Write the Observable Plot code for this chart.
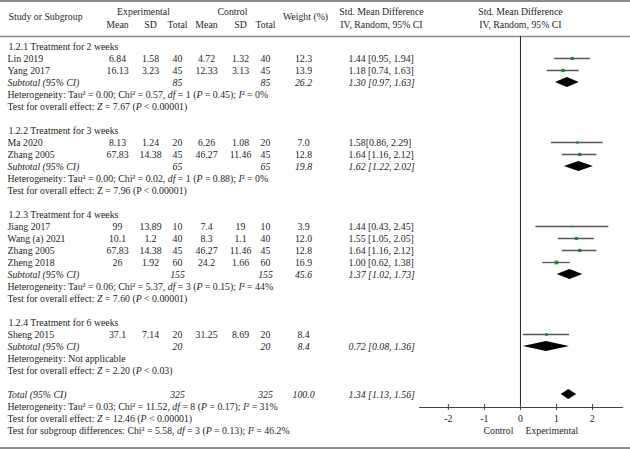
<!DOCTYPE html>
<html><head><meta charset="utf-8">
<script src="https://cdn.jsdelivr.net/npm/d3@7"></script>
<script src="https://cdn.jsdelivr.net/npm/@observablehq/plot@0.6"></script>
<style>
body{margin:0;background:#fff;}
#chart{width:630px;border-top:2px solid #8a8a8a;border-bottom:2px solid #8a8a8a;}
#chart svg{display:block;}
</style></head><body><div id="chart"></div>
<script>
// ---- data ----
const groupTitles = ["1.2.1 Treatment for 2 weeks","1.2.2 Treatment for 3 weeks","1.2.3 Treatment for 4 weeks","1.2.4 Treatment for 6 weeks"];
const studies = ["Lin 2019","Yang 2017","Ma 2020","Zhang 2005","Jiang 2017","Wang (a) 2021","Zhang 2005","Zheng 2018","Sheng 2015"];
const studyGroup = [0,0,1,1,2,2,2,2,3];
const expMean = ["6.84","16.13","8.13","67.83","99","10.1","67.83","26","37.1"];
const expSD = ["1.58","3.23","1.24","14.38","13.89","1.2","14.38","1.92","7.14"];
const expTotal = ["40","45","20","45","10","40","45","60","20"];
const ctlMean = ["4.72","12.33","6.26","46.27","7.4","8.3","46.27","24.2","31.25"];
const ctlSD = ["1.32","3.13","1.08","11.46","19","1.1","11.46","1.66","8.69"];
const ctlTotal = ["40","45","20","45","10","40","45","60","20"];
const weight = ["12.3","13.9","7.0","12.8","3.9","12.0","12.8","16.9","8.4"];
const smd = [1.44,1.18,1.58,1.64,1.44,1.55,1.64,1.00,0.72];
const ciLow = [0.95,0.74,0.86,1.16,0.43,1.05,1.16,0.62,0.08];
const ciHigh = [1.94,1.63,2.29,2.12,2.45,2.05,2.12,1.38,1.36];
const ciText = ["1.44 [0.95, 1.94]","1.18 [0.74, 1.63]","1.58[0.86, 2.29]","1.64 [1.16, 2.12]","1.44 [0.43, 2.45]","1.55 [1.05, 2.05]","1.64 [1.16, 2.12]","1.00 [0.62, 1.38]",""];

const subExpTotal = ["85","65","155","20"];
const subCtlTotal = ["85","65","155","20"];
const subWeight = ["26.2","19.8","45.6","8.4"];
const subSmd = [1.30,1.62,1.37,0.72];
const subLow = [0.97,1.22,1.02,0.08];
const subHigh = [1.63,2.02,1.73,1.36];
const subCiText = ["1.30 [0.97, 1.63]","1.62 [1.22, 2.02]","1.37 [1.02, 1.73]","0.72 [0.08, 1.36]"];
const heterogeneity = [
  "Heterogeneity: Tau² = 0.00; Chi² = 0.57, _df_ = 1 (_P_ = 0.45); _I_² = 0%",
  "Heterogeneity: Tau² = 0.00; Chi² = 0.02, _df_ = 1 (_P_ = 0.88); _I_² = 0%",
  "Heterogeneity: Tau² = 0.06; Chi² = 5.37, _df_ = 3 (_P_ = 0.15); _I_² = 44%",
  "Heterogeneity: Not applicable"];
const overallEffect = [
  "Test for overall effect: _Z_ = 7.67 (_P_ < 0.00001)",
  "Test for overall effect: Z = 7.96 (P < 0.00001)",
  "Test for overall effect: _Z_ = 7.60 (_P_ < 0.00001)",
  "Test for overall effect: _Z_ = 2.20 (_P_ < 0.03)"];

const totalLabel = "Total (95% CI)";
const totalExp = "325";
const totalCtl = "325";
const totalWeight = "100.0";
const totalSmd = 1.34, totalLow = 1.13, totalHigh = 1.56;
const totalCiText = "1.34 [1.13, 1.56]";
const totalNotes = [
  "Heterogeneity: Tau² = 0.03; Chi² = 11.52, _df_ = 8 (_P_ = 0.17); _I_² = 31%",
  "Test for overall effect: _Z_ = 12.46 (_P_ < 0.00001)",
  "Test for subgroup differences: Chi² = 5.58, _df_ = 3 (_P_ = 0.13); _I_² = 46.2%"];

const colHeaders = ["Mean","SD","Total","Mean","SD","Total"];
const armHeaders = ["Experimental","Control"];
const xTicks = [-2,-1,0,1,2];
const axisLabels = ["Control","Experimental"];

// ---- row layout ----
const titleRows = [], studyRows = [], summaryRows = [], noteRows = [];
let r = 0;
groupTitles.forEach((t, g) => {
  titleRows.push({text: t, row: r++});
  studies.forEach((s, i) => { if (studyGroup[i] === g) studyRows.push({i, row: r++}); });
  summaryRows.push({id: "g" + g, label: "Subtotal (95% CI)", e: subExpTotal[g], c: subCtlTotal[g], w: subWeight[g],
    smd: subSmd[g], lo: subLow[g], hi: subHigh[g], ci: subCiText[g], row: r++});
  noteRows.push({text: heterogeneity[g], row: r++});
  noteRows.push({text: overallEffect[g], row: r++});
  r++;
});
summaryRows.push({id: "total", label: totalLabel, e: totalExp, c: totalCtl, w: totalWeight,
  smd: totalSmd, lo: totalLow, hi: totalHigh, ci: totalCiText, row: r});
totalNotes.forEach((t, k) => noteRows.push({text: t, row: r + 1 + k}));
const lastRow = r + totalNotes.length;

const dh = 0.42;
const diamondPts = summaryRows.flatMap(s => [
  {id: s.id, y: s.row - dh, x1: s.smd, x2: s.smd},
  {id: s.id, y: s.row, x1: s.lo, x2: s.hi},
  {id: s.id, y: s.row + dh, x1: s.smd, x2: s.smd}]);

// column helper (pixel column via dx from the frame's left edge)
const col = (data, text, dx, o = {}) => Plot.text(data, {text, y: "row", frameAnchor: "left", dx, textAnchor: "middle", ...o});

const upper = -2.85, lower = -1.8;
const hdr = (label, dx, y, o = {}) => Plot.text([label], {text: d => d, y: () => y, frameAnchor: "left", dx, textAnchor: "middle", ...o});

const plot = Plot.plot({
  width: 630, height: 445,
  marginTop: 34, marginBottom: 40, marginLeft: 0, marginRight: 0,
  style: {fontFamily: "'Liberation Serif', 'DejaVu Serif', serif", fontSize: "9.8px", color: "#231f20", background: "#fff"},
  x: {domain: [-2.8, 2.83], range: [419, 622]},
  y: {domain: [0, lastRow], range: [44, 428], axis: null},
  r: {type: "sqrt", domain: [0, 17], range: [0, 2.1]},
  marks: [
    Plot.frame({anchor: "top", stroke: "#8a8a8a", strokeWidth: 1.5}),
    Plot.frame({anchor: "bottom", stroke: "#444", insetLeft: 419, insetRight: 8}),
    Plot.ruleX([0], {stroke: "#222"}),
    Plot.axisX({ticks: xTicks, tickSize: 6, dy: -3, tickFormat: () => "", label: null, stroke: "#444"}),
    Plot.axisX({ticks: xTicks, tickSize: 0, tickPadding: 8, tickFormat: d => String(d), label: null}),
    Plot.text([axisLabels[0]], {text: d => d, x: () => 0, y: () => lastRow, dx: -7, textAnchor: "end"}),
    Plot.text([axisLabels[1]], {text: d => d, x: () => 0, y: () => lastRow, dx: 5, textAnchor: "start"}),

    // header
    hdr("Study or Subgroup", 8, -2.5, {textAnchor: "start"}),
    hdr(armHeaders[0], 143, upper),
    hdr(armHeaders[1], 232, upper),
    ...colHeaders.map((h, k) => hdr(h, [117, 150, 177, 206, 240, 265][k], lower)),
    hdr("Weight (%)", 305, -2.45),
    hdr("Std. Mean Difference", 381, upper),
    hdr("IV, Random, 95% CI", 381, lower),
    Plot.text(["Std. Mean Difference"], {text: d => d, x: () => 0, y: () => upper}),
    Plot.text(["IV, Random, 95% CI"], {text: d => d, x: () => 0, y: () => lower}),

    // group titles and notes
    col(titleRows, "text", 8, {textAnchor: "start"}),
    col(noteRows, "text", 7, {textAnchor: "start"}),

    // study rows
    col(studyRows, d => studies[d.i], 7, {textAnchor: "start"}),
    col(studyRows, d => expMean[d.i], 117),
    col(studyRows, d => expSD[d.i], 150),
    col(studyRows, d => expTotal[d.i], 177),
    col(studyRows, d => ctlMean[d.i], 206),
    col(studyRows, d => ctlSD[d.i], 240),
    col(studyRows, d => ctlTotal[d.i], 265),
    col(studyRows, d => weight[d.i], 303),
    col(studyRows, d => ciText[d.i], 348, {textAnchor: "start"}),

    // summary rows (italic)
    col(summaryRows, "label", 7, {textAnchor: "start", fontStyle: "italic"}),
    col(summaryRows, "e", 177, {fontStyle: "italic"}),
    col(summaryRows, "c", 265, {fontStyle: "italic"}),
    col(summaryRows, "w", 303, {fontStyle: "italic"}),
    col(summaryRows, "ci", 348, {textAnchor: "start", fontStyle: "italic"}),

    // forest
    Plot.ruleY(studyRows, {y: "row", x1: d => ciLow[d.i], x2: d => ciHigh[d.i], stroke: "#555", strokeWidth: 1.3}),
    Plot.dot(studyRows, {x: d => smd[d.i], y: "row", r: d => +weight[d.i], symbol: "square", fill: "#1f8a2e", stroke: null}),
    Plot.areaX(diamondPts, {x1: "x1", x2: "x2", y: "y", z: "id", fill: "#000", curve: "linear"})
  ]
});

// italic segments marked with underscores
plot.querySelectorAll("text").forEach(t => {
  if (!t.textContent.includes("_")) return;
  const parts = t.textContent.split("_");
  t.textContent = "";
  parts.forEach((p, k) => {
    if (!p) return;
    const ts = document.createElementNS("http://www.w3.org/2000/svg", "tspan");
    ts.textContent = p;
    if (k % 2) ts.setAttribute("font-style", "italic");
    t.appendChild(ts);
  });
});
document.getElementById("chart").appendChild(plot);
</script></body></html>
